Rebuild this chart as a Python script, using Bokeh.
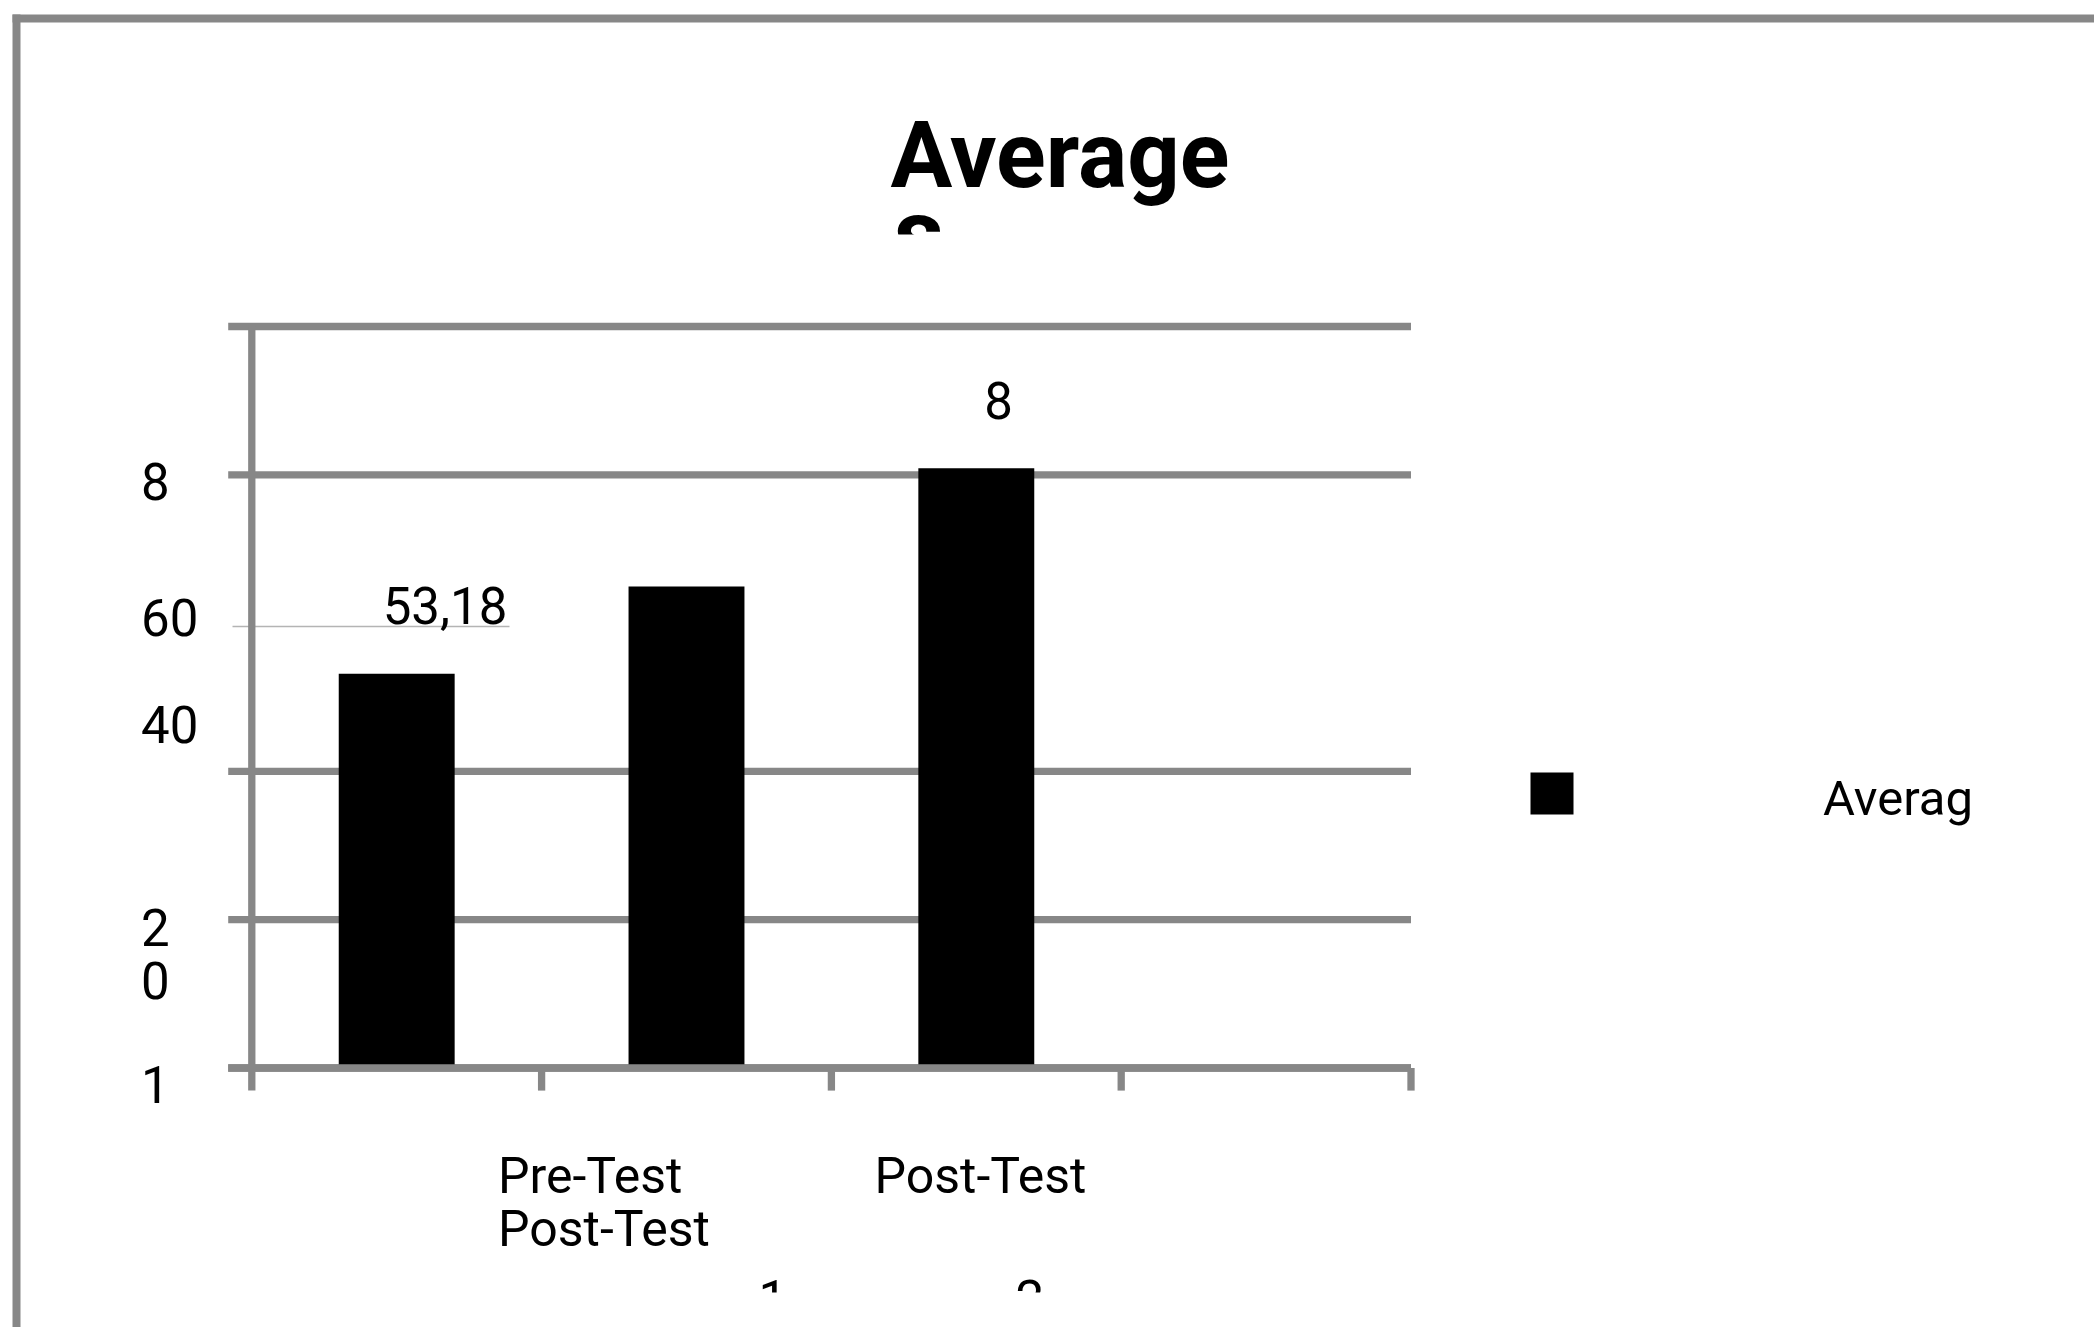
from bokeh.plotting import figure
from bokeh.models import Range1d
from bokeh.core.properties import value
from bokeh.embed import file_html
from bokeh.resources import INLINE

# ---- chart content -------------------------------------------------------
title_text = "Average"
title_overflow = "s"
series_name = "Averag"
bar_values = [53.18, 64.93, 80.89]
bar_value_labels = ["53,18", "", "8"]
grid_values = [0, 20, 40, 80, 100]
y_tick_labels = ["8", "60", "40", "2", "0", "1"]
x_tick_labels = ["Pre-Test", "Post-Test", "Post-Test"]
category_numbers = ["1", "2"]
n_slots = 4

# ---- page geometry (pixels) ----------------------------------------------
W, H = 2094, 1327
AXIS_X = 251.3        # left axis position
SLOT_W = 289.8        # width of one category slot
BASE_Y = 1067.5       # zero line
PX_PER_UNIT = 7.415   # pixels per value unit
GRID_COLOR = "#878787"
FONT = value("Roboto")
BASELINE_FIX = 0.345  # text baseline correction, as a fraction of font size


def X(px):
    return (px - AXIS_X) / SLOT_W


def Y(py):
    return (BASE_Y - py) / PX_PER_UNIT


def TY(py, fs):
    """y position for a text whose baseline should sit at pixel row py."""
    return Y(py - BASELINE_FIX * fs)


p = figure(width=W, height=H,
           x_range=Range1d(X(0), X(W)), y_range=Range1d(Y(H), Y(0)),
           output_backend="svg", toolbar_location=None, tools="",
           x_axis_location=None, y_axis_location=None, min_border=0)
p.grid.visible = False
p.outline_line_color = None
p.background_fill_color = "white"
p.border_fill_color = "white"

# outer frame (top and left edges)
p.segment(x0=[X(12)], y0=[Y(18)], x1=[X(W + 5)], y1=[Y(18)],
          line_width=8, line_color=GRID_COLOR, line_cap="butt")
p.segment(x0=[X(16)], y0=[Y(14)], x1=[X(16)], y1=[Y(H + 5)],
          line_width=8, line_color=GRID_COLOR, line_cap="butt")

# title, with its wrapped second line cut off
TFS = 92
p.text(x=[X(890)], y=[TY(187, TFS)], text=[title_text], text_font=FONT,
       text_font_style="bold", text_font_size=f"{TFS}px",
       text_baseline="alphabetic", text_align="left", text_color="black")
p.text(x=[X(893)], y=[TY(266, TFS)], text=[title_overflow], text_font=FONT,
       text_font_style="bold", text_font_size=f"{TFS + 6}px",
       text_baseline="alphabetic", text_align="left", text_color="black")
p.quad(left=[X(870)], right=[X(1000)], top=[Y(234)], bottom=[Y(300)],
       fill_color="white", line_color=None)

# horizontal grid lines
tick_len = AXIS_X - 227.7
g_x0 = [X(AXIS_X - tick_len)] * len(grid_values)
g_x1 = [float(n_slots)] * len(grid_values)
p.segment(x0=g_x0, y0=grid_values, x1=g_x1, y1=grid_values,
          line_width=7.3, line_color=GRID_COLOR, line_cap="butt")

# faint stray rule near 60
p.segment(x0=[X(232)], y0=[Y(626)], x1=[X(509)], y1=[Y(626)],
          line_width=1.3, line_color="#b4b4b4")

# vertical axis line and category ticks
p.segment(x0=[0], y0=[max(grid_values)], x1=[0], y1=[Y(BASE_Y + tick_len - 1)],
          line_width=7.3, line_color=GRID_COLOR, line_cap="butt")
slot_edges = list(range(1, n_slots + 1))
p.segment(x0=slot_edges, y0=[0] * n_slots, x1=slot_edges,
          y1=[Y(BASE_Y + tick_len - 1)] * n_slots,
          line_width=7.3, line_color=GRID_COLOR, line_cap="butt")

# bars
bar_x = [i + 0.5 for i in range(len(bar_values))]
p.vbar(x=bar_x, top=bar_values, bottom=0, width=0.4,
       fill_color="black", line_color=None)

# zero line drawn over the bar feet
p.segment(x0=[X(AXIS_X - tick_len)], y0=[0], x1=[float(n_slots)], y1=[0],
          line_width=7.3, line_color=GRID_COLOR, line_cap="butt")

# value labels above bars
NFS = 51
label_dx = [-14, 0, 8]
lx, ly, lt = [], [], []
for i, (v, t) in enumerate(zip(bar_values, bar_value_labels)):
    if t:
        lx.append(bar_x[i] + label_dx[i] / SLOT_W)
        ly.append(v + (50.5 + BASELINE_FIX * NFS) / PX_PER_UNIT)
        lt.append(t)
p.text(x=lx, y=ly, text=lt, text_font=FONT, text_font_size=f"{NFS}px",
       text_baseline="alphabetic", text_align="left", text_color="black")

# value-axis labels
ytl_base = [498.3, 634.3, 741.7, 945, 998, 1102]
p.text(x=[X(140.5)] * len(y_tick_labels), y=[TY(b, NFS) for b in ytl_base],
       text=y_tick_labels, text_font=FONT, text_font_size=f"{NFS}px",
       text_baseline="alphabetic", text_align="left", text_color="black")

# category labels
CFS = 50
xtl_px = [497.5, 497.5, 874]
xtl_base = [1192.7, 1245.7, 1192.7]
p.text(x=[X(v) for v in xtl_px], y=[TY(b, CFS) for b in xtl_base],
       text=x_tick_labels, text_font=FONT, text_font_size=f"{CFS}px",
       text_baseline="alphabetic", text_align="left", text_color="black")

# category numbers, cut off at the page edge
p.text(x=[X(758), X(1015)], y=[TY(1316, NFS)] * 2, text=category_numbers,
       text_font=FONT, text_font_size=f"{NFS}px",
       text_baseline="alphabetic", text_align="left", text_color="black")
p.quad(left=[X(700)], right=[X(1100)], top=[Y(1292)], bottom=[Y(H + 20)],
       fill_color="white", line_color=None)

# legend
LFS = 49
p.quad(left=[X(1530)], right=[X(1573)], top=[Y(772)], bottom=[Y(814)],
       fill_color="black", line_color=None)
p.text(x=[X(1822.5)], y=[TY(815, LFS)], text=[series_name], text_font=FONT,
       text_font_size=f"{LFS}px", text_baseline="alphabetic",
       text_align="left", text_color="black")

open("out.html", "w").write(file_html(p, INLINE))
